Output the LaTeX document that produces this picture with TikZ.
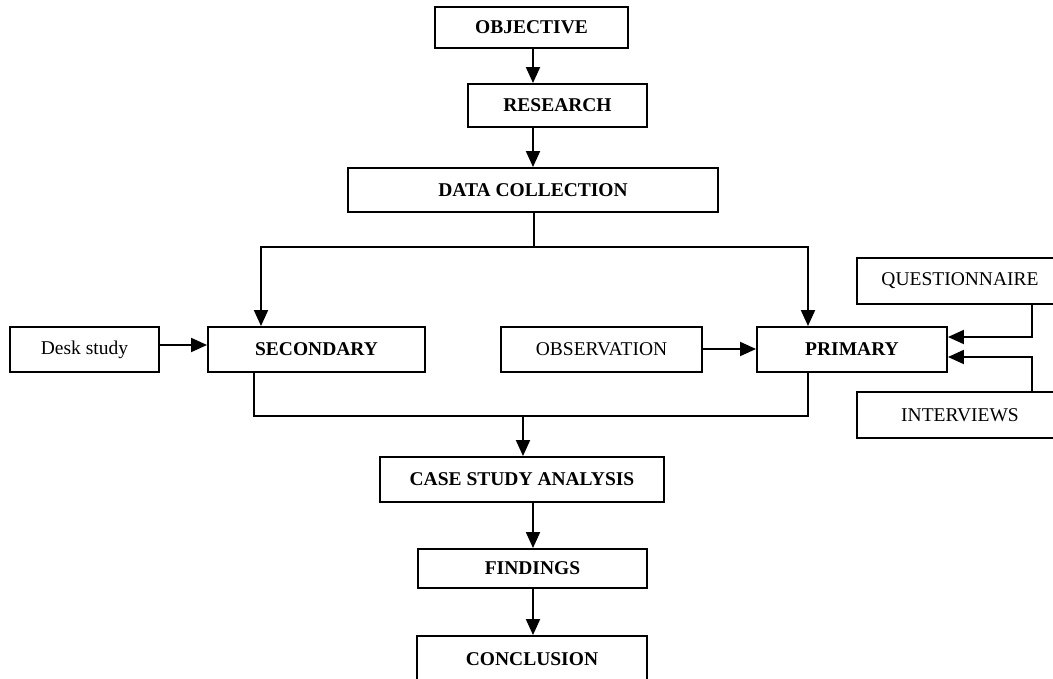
\documentclass[tikz,border=0pt]{standalone}
\usepackage{fontspec}
\setmainfont{Liberation Serif}
\usetikzlibrary{arrows.meta}
\begin{document}
\begin{tikzpicture}[x=1pt,y=-1pt,
  box/.style={draw,line width=1.9pt,inner sep=0pt,font=\fontsize{19.5}{23}\selectfont},
  bbox/.style={box,font=\fontsize{19.5}{23}\selectfont\bfseries},
  conn/.style={line width=1.9pt},
  arr/.style={conn,-{Triangle[length=16pt,width=14pt]}}]
\clip (0,0) rectangle (1053,679);
\useasboundingbox (0,0) rectangle (1053,679);
% nodes
\node[bbox,minimum width=193pt,minimum height=41pt] (obj) at (531.5,27.5) {OBJECTIVE};
\node[bbox,minimum width=179pt,minimum height=43pt] (res) at (557.5,105.5) {RESEARCH};
\node[bbox,minimum width=370pt,minimum height=44pt] (dc) at (533,190) {DATA COLLECTION};
\node[bbox,minimum width=217pt,minimum height=45pt] (sec) at (316.5,349.5) {SECONDARY};
\node[box,minimum width=149pt,minimum height=45pt] (desk) at (84.5,349.5) {Desk study};
\node[box,minimum width=201pt,minimum height=45pt] (obs) at (601.5,349.5) {OBSERVATION};
\node[bbox,minimum width=190pt,minimum height=45pt] (pri) at (852,349.5) {PRIMARY};
\node[box,minimum width=206pt,minimum height=46pt] (q) at (960,281) {QUESTIONNAIRE};
\node[box,minimum width=206pt,minimum height=46pt] (int) at (960,415) {INTERVIEWS};
\node[bbox,minimum width=284pt,minimum height=45pt] (case) at (522,479.5) {CASE STUDY ANALYSIS};
\node[bbox,minimum width=229pt,minimum height=39pt] (find) at (532.5,568.5) {FINDINGS};
\node[bbox,minimum width=230pt,minimum height=46pt] (conc) at (532,659) {CONCLUSION};
% helper coordinates
\coordinate (spine) at (533,0);
\coordinate (split) at (534,247);
\coordinate (secin) at (261,0);
\coordinate (priin) at (808,0);
\coordinate (secout) at (254,0);
\coordinate (merge) at (523,416);
\coordinate (rx) at (1032,0);
% connectors
\draw[arr] (obj.south -| spine) -- (res.north -| spine);
\draw[arr] (res.south -| spine) -- (dc.north -| spine);
\draw[conn] (dc.south -| split) -- (split);
\draw[arr] (split) -| (sec.north -| secin);
\draw[arr] (split) -| (pri.north -| priin);
\draw[arr] ([yshift=4.5pt]desk.east) -- ([yshift=4.5pt]desk.east -| sec.west);
\draw[arr] ([yshift=0.5pt]obs.east) -- ([yshift=0.5pt]pri.west);
\draw[conn] (sec.south -| secout) |- (merge) -| (pri.south -| priin);
\draw[arr] (merge) -- (case.north -| merge);
\draw[arr] (case.south -| spine) -- (find.north -| spine);
\draw[arr] (find.south -| spine) -- (conc.north -| spine);
\draw[arr] (q.south -| rx) |- ([yshift=12.5pt]pri.east);
\draw[arr] (int.north -| rx) |- ([yshift=-7.5pt]pri.east);
\end{tikzpicture}
\end{document}
